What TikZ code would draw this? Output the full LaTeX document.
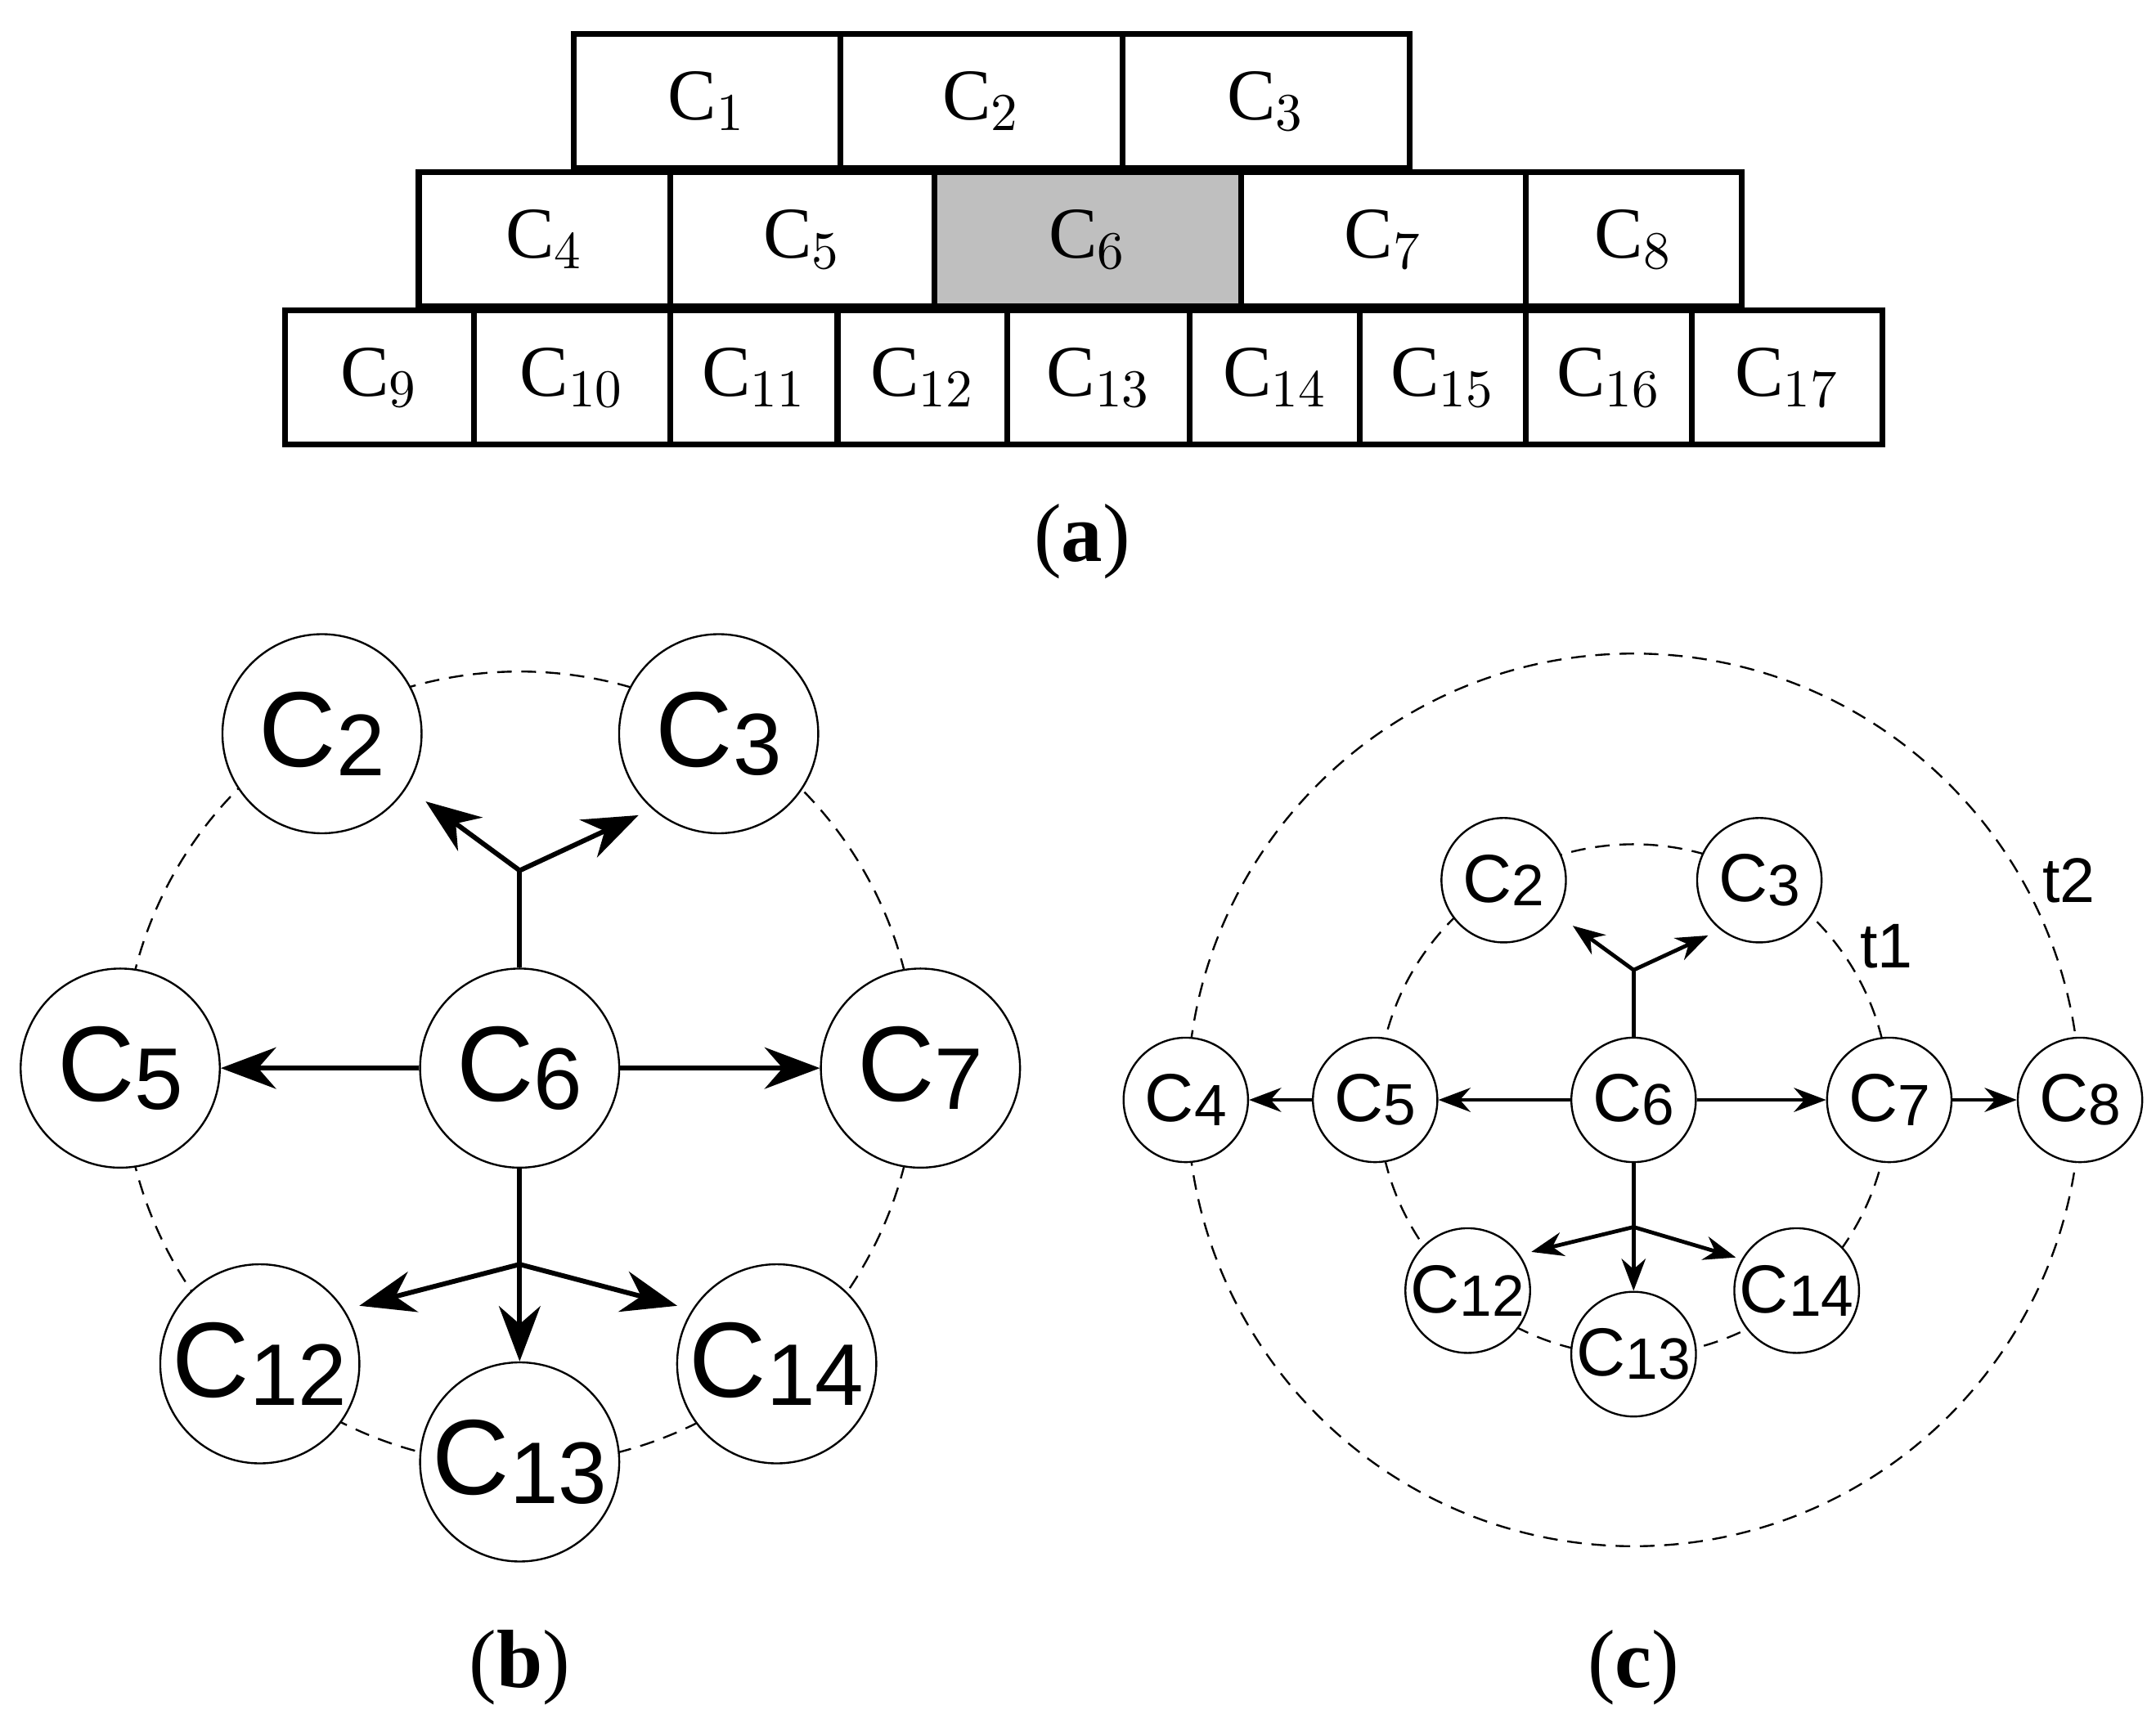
\documentclass[tikz,border=0pt]{standalone}
\usepackage{fontspec}
\setmainfont{Liberation Serif}
\setsansfont{Liberation Sans}
\usetikzlibrary{arrows.meta, positioning}
\begin{document}
\begin{tikzpicture}[x=0.01cm, y=-0.01cm, >=Stealth]
  \tikzset{cell/.style={draw, line width=1.2pt, minimum height=0.97cm, inner sep=0pt, font=\fontsize{15}{17}\selectfont},
    bignode/.style={circle, draw, minimum size=1.44cm, inner sep=0pt, font=\sffamily\fontsize{22}{24}\selectfont},
    smallnode/.style={circle, draw, minimum size=0.9cm, inner sep=0pt, font=\sffamily\fontsize{14}{16}\selectfont},
    ring/.style={densely dashed, line width=0.4pt},
    caption/.style={font=\fontsize{17}{19}\selectfont}}
  \useasboundingbox (0,0) rectangle (1560,1240);
  % (a) rows of cells
  \foreach \a/\b/\n/\y in {415/608/1/73, 608/812/2/73, 812/1020/3/73,
      303/485/4/173, 485/676/5/173, 676/898/6/173, 898/1104/7/173, 1104/1260/8/173,
      206/343/9/273, 343/485/10/273, 485/606/11/273, 606/729/12/273, 729/861/13/273,
      861/984/14/273, 984/1104/15/273, 1104/1224/16/273, 1224/1362/17/273} {
    \pgfmathsetmacro{\cx}{(\a+\b)/2}
    \pgfmathsetmacro{\w}{(\b-\a)*0.01}
    \node[cell, minimum width=\w cm] (a\n) at (\cx,\y) {C$_{\n}$};
  }
  \fill[gray!50] (a6.south west) rectangle (a6.north east);
  \node[cell, minimum width=2.22cm] at (a6) {C$_{6}$};
  \node[caption] (capa) at (783,392) {(\textbf{a})};
  % (b)
  \draw[ring] (376,773) circle (287);
  \foreach \n/\x/\y in {2/233/531, 3/520/531, 5/87/773, 6/376/773, 7/666/773, 12/188/987, 13/376/1058, 14/562/987}
    \node[bignode, fill=white] (b\n) at (\x,\y) {C\raisebox{-0.15ex}{\fontsize{18}{20}\selectfont\n}};
  \coordinate (bup) at (376,630);
  \coordinate (bdn) at (376,915);
  \coordinate (bul) at (308,580);
  \coordinate (bur) at (462,590);
  \coordinate (bdl) at (260,945);
  \coordinate (bdr) at (490,945);
  \draw[line width=1pt] (b6) -- (bup);
  \draw[line width=1pt, -{Stealth[length=4mm, width=3mm]}] (bup) -- (bul);
  \draw[line width=1pt, -{Stealth[length=4mm, width=3mm]}] (bup) -- (bur);
  \draw[line width=1pt, -{Stealth[length=4mm, width=3mm]}] (b6) -- (b5);
  \draw[line width=1pt, -{Stealth[length=4mm, width=3mm]}] (b6) -- (b7);
  \draw[line width=1pt] (b6) -- (bdn);
  \draw[line width=1pt, -{Stealth[length=4mm, width=3mm]}] (bdn) -- (bdl);
  \draw[line width=1pt, -{Stealth[length=4mm, width=3mm]}] (bdn) -- (bdr);
  \draw[line width=1pt, -{Stealth[length=4mm, width=3mm]}] (bdn) -- (b13);
  \node[caption] (capb) at (376,1207) {(\textbf{b})};
  % (c)
  \draw[ring] (1182,796) circle (185);
  \draw[ring] (1182,796) circle (323);
  \foreach \n/\x/\y in {2/1088/637, 3/1273/637, 4/858/796, 5/995/796, 6/1182/796, 7/1367/796, 8/1505/796, 12/1062/934, 13/1182/980, 14/1300/934}
    \node[smallnode, fill=white] (c\n) at (\x,\y) {C\raisebox{-0.1ex}{\fontsize{12}{14}\selectfont\n}};
  \node[font=\sffamily\fontsize{13}{15}\selectfont] (t1) at (1365,685) {t1};
  \node[font=\sffamily\fontsize{13}{15}\selectfont] (t2) at (1497,637) {t2};
  \coordinate (cup) at (1182,702);
  \coordinate (cdn) at (1182,888);
  \coordinate (cul) at (1138,670);
  \coordinate (cur) at (1236,677);
  \coordinate (cdl) at (1108,906);
  \coordinate (cdr) at (1256,910);
  \draw[line width=0.8pt] (c6) -- (cup);
  \draw[line width=0.8pt, ->] (cup) -- (cul);
  \draw[line width=0.8pt, ->] (cup) -- (cur);
  \draw[line width=0.8pt, ->] (c6) -- (c5);
  \draw[line width=0.8pt, ->] (c5) -- (c4);
  \draw[line width=0.8pt, ->] (c6) -- (c7);
  \draw[line width=0.8pt, ->] (c7) -- (c8);
  \draw[line width=0.8pt] (c6) -- (cdn);
  \draw[line width=0.8pt, ->] (cdn) -- (cdl);
  \draw[line width=0.8pt, ->] (cdn) -- (cdr);
  \draw[line width=0.8pt, ->] (cdn) -- (c13);
  \node[caption] (capc) at (1182,1207) {(\textbf{c})};
\end{tikzpicture}
\end{document}
